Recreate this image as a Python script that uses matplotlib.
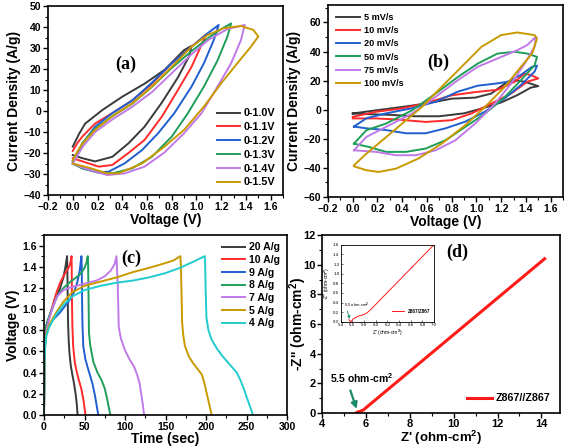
import matplotlib
matplotlib.use('Agg')
import matplotlib.pyplot as plt
from matplotlib.ticker import MultipleLocator, AutoMinorLocator

# --- (a) CV at 100 mV/s for different windows: closed loops (V, A/g) ---
win_labels = ['0-1.0V', '0-1.1V', '0-1.2V', '0-1.3V', '0-1.4V', '0-1.5V']
a_v10 = [0, 0.05, 0.1, 0.24, 0.4, 0.58, 0.74, 0.9, 0.96, 0.94, 0.85, 0.72, 0.58, 0.45, 0.32, 0.18, 0.08, 0]
a_i10 = [-17, -11, -6, 0.5, 6.8, 13, 19.5, 29, 31, 26, 16, 4, -7.5, -15.4, -21.8, -24, -22.5, -21]
a_v11 = [0, 0.04, 0.08, 0.18, 0.32, 0.48, 0.64, 0.8, 0.96, 1.08, 1.06, 0.96, 0.85, 0.72, 0.58, 0.45, 0.32, 0.21, 0.08, 0]
a_i11 = [-19, -15, -12, -6, -1, 5, 13, 22.7, 30.6, 36.5, 34, 21, 10, -2.7, -13.8, -20, -25.7, -26.5, -24, -22.5]
a_v12 = [0, 0.04, 0.08, 0.18, 0.32, 0.48, 0.64, 0.8, 0.96, 1.09, 1.18, 1.14, 1.06, 0.96, 0.82, 0.69, 0.56, 0.42, 0.29, 0.2, 0.08, 0]
a_i12 = [-24, -20, -15.4, -7.5, -1, 5, 13.5, 22.7, 30.6, 37, 41, 33.8, 22.7, 11.6, -1.1, -10.6, -18.6, -24.9, -28.9, -29.2, -27, -25]
a_v13 = [0, 0.04, 0.08, 0.18, 0.32, 0.48, 0.64, 0.8, 0.96, 1.1, 1.2, 1.28, 1.25, 1.17, 1.06, 0.93, 0.8, 0.64, 0.48, 0.32, 0.22, 0.08, 0]
a_i13 = [-24, -20, -15, -8.5, -2.5, 3.5, 11.5, 20.5, 28.5, 35, 39, 41.7, 35.4, 24, 11.6, -1.1, -12.2, -21.8, -27.3, -29.7, -29.5, -27.5, -25]
a_v14 = [0, 0.04, 0.08, 0.18, 0.32, 0.48, 0.64, 0.8, 0.96, 1.1, 1.25, 1.39, 1.36, 1.28, 1.17, 1.04, 0.9, 0.74, 0.58, 0.42, 0.28, 0.1, 0]
a_i14 = [-25, -21, -17, -10, -4, 2, 9, 18, 27, 34, 39, 41, 33.8, 22.7, 11.6, -1.1, -10.6, -19.8, -26.5, -29.7, -30.5, -27.5, -25]
a_v15 = [0, 0.04, 0.08, 0.18, 0.32, 0.48, 0.64, 0.8, 0.96, 1.09, 1.22, 1.36, 1.46, 1.5, 1.44, 1.33, 1.2, 1.06, 0.9, 0.74, 0.56, 0.37, 0.28, 0.13, 0]
a_i15 = [-23.5, -19, -15.4, -9, -2.5, 3.6, 11.6, 21, 30.6, 36.2, 39.4, 40.5, 38.6, 35.5, 30.6, 22.7, 13.2, 2.1, -9, -17, -25, -29.7, -29.7, -27, -25]

# --- (b) CV at different scan rates, 0-1.5 V ---
rate_labels = ['5 mV/s', '10 mV/s', '20 mV/s', '50 mV/s', '75 mV/s', '100 mV/s']
b_v5 = [0, 0.19, 0.4, 0.59, 0.8, 0.99, 1.12, 1.23, 1.31, 1.39, 1.5, 1.44, 1.33, 1.2, 1.05, 0.9, 0.7, 0.5, 0.3, 0.1, 0]
b_i5 = [-2.6, -0.4, 1.9, 4.2, 7.6, 8.3, 11.1, 18, 20.3, 19.2, 16.2, 15.2, 10, 5, 1, -2.5, -4.5, -4.5, -3.5, -3, -2.6]
b_v10 = [0, 0.19, 0.4, 0.59, 0.8, 0.99, 1.17, 1.31, 1.39, 1.44, 1.5, 1.41, 1.28, 1.12, 0.96, 0.8, 0.59, 0.37, 0.19, 0]
b_i10 = [-4.9, -1.4, 0.9, 4.5, 9.9, 12.1, 13.7, 19.2, 24.9, 23.8, 21.5, 19.2, 11.1, 4.2, -2.6, -7.2, -8.4, -6.8, -6, -6]
b_v20 = [0.01, 0.11, 0.27, 0.48, 0.67, 0.85, 1.01, 1.17, 1.25, 1.36, 1.45, 1.49, 1.47, 1.36, 1.23, 1.07, 0.91, 0.75, 0.59, 0.43, 0.27, 0.11, 0.01]
b_i20 = [-11.6, -5.9, -2.5, 1, 5.5, 12.4, 16.5, 18.1, 19.2, 24, 29.5, 30.3, 26.2, 17, 7.9, -1.3, -8.2, -12.8, -16.2, -16.2, -14, -12.8, -11.6]
b_v50 = [0.01, 0.11, 0.27, 0.48, 0.67, 0.85, 1.01, 1.17, 1.31, 1.41, 1.49, 1.47, 1.36, 1.23, 1.07, 0.91, 0.75, 0.59, 0.43, 0.27, 0.13, 0.01]
b_i50 = [-23.3, -14.1, -9.5, -0.4, 11.1, 22.5, 31.7, 38.6, 39.8, 38.6, 36.3, 30.6, 20.3, 8.8, -2.6, -11.8, -21, -26.7, -29, -29, -25.6, -23.3]
b_v75 = [0.01, 0.11, 0.27, 0.48, 0.67, 0.85, 1.01, 1.17, 1.33, 1.41, 1.48, 1.47, 1.39, 1.28, 1.15, 0.99, 0.83, 0.67, 0.51, 0.35, 0.19, 0.01]
b_i75 = [-27.9, -18.7, -11.8, -2.6, 8.8, 20.3, 29.5, 35.2, 40.9, 44.4, 50.1, 43.2, 31.7, 17.9, 4.2, -9.5, -21, -27.9, -31.3, -31.3, -29, -27.9]
b_v100 = [0.01, 0.11, 0.24, 0.4, 0.56, 0.72, 0.88, 1.04, 1.2, 1.33, 1.47, 1.49, 1.45, 1.36, 1.23, 1.07, 0.91, 0.72, 0.53, 0.35, 0.21, 0.11, 0.01]
b_i100 = [-38.2, -30.2, -21, -9.5, 2, 15.8, 29.5, 43.2, 51.3, 53.1, 51.3, 49, 38.6, 29.5, 15.8, 2, -10.6, -23.3, -33.6, -40.5, -42.8, -41.6, -38.9]

# --- (c) GCD curves (time s, voltage V) ---
gcd_labels = ['20 A/g', '10 A/g', '9 A/g', '8 A/g', '7 A/g', '5 A/g', '4 A/g']
c_t20 = [0, 0.5, 1.5, 3, 6, 9, 12, 16, 20, 24, 26.5, 28.5, 28.8, 29.2, 29.8, 30.5, 31.5, 33, 35, 37, 39, 40.5, 41.5]
c_u20 = [0, 0.6, 0.78, 0.85, 0.92, 0.99, 1.05, 1.12, 1.2, 1.3, 1.4, 1.5, 1.4, 1.15, 0.85, 0.7, 0.58, 0.47, 0.38, 0.3, 0.2, 0.1, 0]
c_t10 = [0, 0.5, 1.5, 3, 6, 9, 12, 16, 20, 24, 28, 31, 33, 34, 34.2, 34.5, 35, 36, 38, 40, 43, 46, 48.5, 50, 51.2]
c_u10 = [0, 0.55, 0.75, 0.83, 0.9, 0.98, 1.07, 1.17, 1.25, 1.31, 1.36, 1.4, 1.45, 1.5, 1.4, 1.1, 0.85, 0.65, 0.5, 0.42, 0.33, 0.25, 0.15, 0.07, 0]
c_t9 = [0, 0.5, 1.5, 3, 6, 10, 15, 20, 26, 32, 37, 41, 44, 46.2, 46.6, 47, 47.5, 48.5, 51, 53.5, 57, 60, 63, 65, 67]
c_u9 = [0, 0.5, 0.7, 0.78, 0.84, 0.89, 0.93, 0.97, 1.03, 1.09, 1.16, 1.25, 1.36, 1.5, 1.4, 1.1, 0.85, 0.65, 0.53, 0.46, 0.37, 0.29, 0.18, 0.09, 0]
c_t8 = [0, 0.5, 1.5, 3, 6, 10, 16, 24, 33, 40, 46, 50, 52.5, 54, 54.5, 55, 55.5, 57, 61, 66, 71, 75, 78, 80, 82]
c_u8 = [0, 0.55, 0.75, 0.85, 0.92, 1.0, 1.12, 1.2, 1.26, 1.3, 1.34, 1.39, 1.44, 1.5, 1.4, 1.1, 0.78, 0.66, 0.5, 0.4, 0.33, 0.25, 0.15, 0.07, 0]
c_t7 = [0, 0.5, 1.5, 3, 6, 10, 16, 24, 35, 45, 55, 65, 75, 82, 87, 89.5, 90, 91, 92.3, 95, 100, 106, 111, 115, 118, 120, 122, 123.5]
c_u7 = [0, 0.5, 0.7, 0.8, 0.9, 1.0, 1.12, 1.18, 1.21, 1.23, 1.25, 1.27, 1.31, 1.36, 1.42, 1.5, 1.4, 1.24, 0.83, 0.72, 0.61, 0.52, 0.46, 0.38, 0.3, 0.2, 0.1, 0]
c_t5 = [0, 0.5, 1.5, 3, 6, 10, 16, 24, 35, 50, 70, 90, 110, 130, 148, 160, 168.5, 169, 169.7, 170.5, 172, 174, 179, 184, 190, 195, 198, 201, 204, 207]
c_u5 = [0, 0.47, 0.67, 0.77, 0.84, 0.9, 0.98, 1.07, 1.16, 1.22, 1.26, 1.3, 1.35, 1.39, 1.43, 1.46, 1.5, 1.4, 1.18, 0.87, 0.75, 0.65, 0.55, 0.49, 0.43, 0.38, 0.3, 0.2, 0.1, 0]
c_t4 = [0, 0.5, 1.5, 3, 6, 10, 16, 24, 35, 50, 70, 90, 110, 130, 150, 168, 185, 198.5, 199, 199.5, 200.5, 203, 207, 214, 221, 230, 238, 243, 247, 252, 258]
c_u4 = [0, 0.45, 0.65, 0.75, 0.82, 0.88, 0.96, 1.04, 1.12, 1.18, 1.22, 1.25, 1.27, 1.3, 1.34, 1.39, 1.45, 1.5, 1.4, 1.2, 0.92, 0.8, 0.71, 0.62, 0.55, 0.47, 0.4, 0.32, 0.24, 0.13, 0]

# --- (d) Nyquist plot ---
d_zre = [5.55, 5.6, 5.7, 5.8, 5.9, 6.0, 14.15]
d_zim = [0.0, 0.05, 0.1, 0.15, 0.22, 0.35, 10.4]
ins_zre = [5.54, 5.57, 5.62, 5.7, 5.79, 5.85, 5.9, 7.0]
ins_zim = [0.05, 0.0, 0.07, 0.12, 0.15, 0.19, 0.24, 1.6]

colors6 = ['#3a3a3a', '#ff2a2a', '#1f5fd0', '#1f9e5a', '#c07ae8', '#c99a00']
colors7 = ['#3a3a3a', '#ff2a2a', '#1f5fd0', '#1f9e5a', '#c07ae8', '#c99a00', '#22cccc']

plt.rcParams['font.family'] = ['Liberation Sans', 'DejaVu Sans']
plt.rcParams['font.weight'] = 'bold'
plt.rcParams['axes.labelweight'] = 'bold'
plt.rcParams['mathtext.fontset'] = 'custom'
plt.rcParams['mathtext.bf'] = 'Liberation Sans:bold'
plt.rcParams['mathtext.rm'] = 'Liberation Sans:bold'
plt.rcParams['mathtext.default'] = 'bf'

fig = plt.figure(figsize=(5.67, 4.48), dpi=100)
ax_a = fig.add_axes([0.0847, 0.5647, 0.4145, 0.4219])
ax_b = fig.add_axes([0.5785, 0.5603, 0.4145, 0.4286])
ax_c = fig.add_axes([0.0776, 0.0737, 0.4286, 0.4018])
ax_d = fig.add_axes([0.5679, 0.0781, 0.4198, 0.3973])


def style(ax, xmaj, ymaj, size=7.5, pad=1.5):
    ax.xaxis.set_major_locator(MultipleLocator(xmaj))
    ax.yaxis.set_major_locator(MultipleLocator(ymaj))
    ax.xaxis.set_minor_locator(AutoMinorLocator(2))
    ax.yaxis.set_minor_locator(AutoMinorLocator(2))
    ax.tick_params(which='major', direction='out', length=3.5, width=1.0, labelsize=size, pad=pad)
    ax.tick_params(which='minor', direction='out', length=2, width=0.8)
    for s in ax.spines.values():
        s.set_linewidth(1.2)
    for lab in ax.get_xticklabels() + ax.get_yticklabels():
        lab.set_fontweight('bold')


# (a)
a_loops = [(a_v10, a_i10), (a_v11, a_i11), (a_v12, a_i12), (a_v13, a_i13), (a_v14, a_i14), (a_v15, a_i15)]
for (v, i), c, lab in zip(a_loops, colors6, win_labels):
    ax_a.plot(v, i, color=c, lw=1.4, label=lab)
ax_a.set_xlim(-0.2, 1.7)
ax_a.set_ylim(-40, 50)
style(ax_a, 0.2, 10)
ax_a.set_xlabel('Voltage (V)', fontsize=10, labelpad=1)
ax_a.set_ylabel('Current Density (A/g)', fontsize=10, labelpad=2)
ax_a.legend(loc='lower right', frameon=False, fontsize=7.8, handlelength=2.2,
            labelspacing=0.35, handletextpad=0.3, borderaxespad=0.3)
ax_a.text(0.33, 0.69, '(a)', transform=ax_a.transAxes, fontsize=13, fontweight='bold',
          family='Liberation Serif', ha='center', va='center')

# (b)
b_loops = [(b_v5, b_i5), (b_v10, b_i10), (b_v20, b_i20), (b_v50, b_i50), (b_v75, b_i75), (b_v100, b_i100)]
for (v, i), c, lab in zip(b_loops, colors6, rate_labels):
    ax_b.plot(v, i, color=c, lw=1.4, label=lab)
ax_b.set_xlim(-0.2, 1.7)
ax_b.set_ylim(-60, 72)
style(ax_b, 0.2, 20)
ax_b.set_xlabel('Voltage (V)', fontsize=10, labelpad=1)
ax_b.set_ylabel('Current Density (A/g)', fontsize=10, labelpad=2)
ax_b.legend(loc='upper left', frameon=False, fontsize=6.6, handlelength=2.6,
            labelspacing=0.45, handletextpad=0.4, borderaxespad=0.5)
ax_b.text(0.47, 0.70, '(b)', transform=ax_b.transAxes, fontsize=13, fontweight='bold',
          family='Liberation Serif', ha='center', va='center')

# (c)
c_curves = [(c_t20, c_u20), (c_t10, c_u10), (c_t9, c_u9), (c_t8, c_u8), (c_t7, c_u7), (c_t5, c_u5), (c_t4, c_u4)]
for (t, u), c, lab in zip(c_curves, colors7, gcd_labels):
    ax_c.plot(t, u, color=c, lw=1.4, label=lab)
ax_c.set_xlim(0, 300)
ax_c.set_ylim(0, 1.7)
style(ax_c, 50, 0.2)
ax_c.set_xlabel('Time (sec)', fontsize=10, labelpad=0)
ax_c.set_ylabel('Voltage (V)', fontsize=10, labelpad=2)
ax_c.legend(loc='upper right', frameon=False, fontsize=7.6, handlelength=2.2,
            labelspacing=0.25, handletextpad=0.3, borderaxespad=0.3)
ax_c.text(0.36, 0.87, '(c)', transform=ax_c.transAxes, fontsize=13, fontweight='bold',
          family='Liberation Serif', ha='center', va='center')

# (d)
ax_d.plot(d_zre, d_zim, color='#ff1a1a', lw=2.2, label='Z867//Z867')
ax_d.set_xlim(4, 14.85)
ax_d.set_ylim(0, 12)
style(ax_d, 2, 2, size=8, pad=1)
ax_d.set_xlabel("Z' (ohm-cm$^2$)", fontsize=9.5, labelpad=0)
ax_d.set_ylabel("-Z'' (ohm-cm$^2$)", fontsize=10)
ax_d.yaxis.set_label_coords(-0.055, 0.5)
ax_d.legend(loc='lower right', frameon=False, fontsize=7.7, handlelength=2.4,
            handletextpad=0.3, borderaxespad=0.5)
ax_d.text(0.57, 0.90, '(d)', transform=ax_d.transAxes, fontsize=13, fontweight='bold',
          family='Liberation Serif', ha='center', va='center')
ax_d.text(4.35, 2.35, '5.5 ohm-cm$^2$', fontsize=7.5, fontweight='bold', va='center')
ax_d.annotate('', xy=(5.62, 0.1), xytext=(5.25, 1.7),
              arrowprops=dict(arrowstyle='-|>', color='#1b8a6b', lw=1.6, mutation_scale=9))

ax_in = fig.add_axes([0.6009, 0.2813, 0.1646, 0.1725])
ax_in.plot(ins_zre, ins_zim, color='#ff1a1a', lw=0.7, label='Z867/Z867')
ax_in.set_xlim(5.4, 7.0)
ax_in.set_ylim(0, 1.6)
ax_in.xaxis.set_major_locator(MultipleLocator(0.2))
ax_in.yaxis.set_major_locator(MultipleLocator(0.2))
ax_in.tick_params(direction='in', length=1.5, width=0.4, labelsize=3.2, pad=1)
for s in ax_in.spines.values():
    s.set_linewidth(0.6)
ax_in.set_xlabel("Z' (ohm-cm$^2$)", fontsize=3.6, labelpad=0.5, fontweight='normal')
ax_in.set_ylabel("-Z'' (ohm-cm$^2$)", fontsize=3.6, labelpad=0.5, fontweight='normal')
for lab in ax_in.get_xticklabels() + ax_in.get_yticklabels():
    lab.set_fontweight('normal')
ax_in.legend(loc='lower right', frameon=False, fontsize=3.3, handlelength=2.5,
             bbox_to_anchor=(1.0, 0.05))
ax_in.text(5.45, 0.3, '5.5 ohm-cm$^2$', fontsize=3, fontweight='normal')
ax_in.annotate('', xy=(5.57, 0.01), xytext=(5.5, 0.28),
               arrowprops=dict(arrowstyle='-|>', color='#1b8a6b', lw=0.6, mutation_scale=4))

fig.savefig('out.png', dpi=100)
